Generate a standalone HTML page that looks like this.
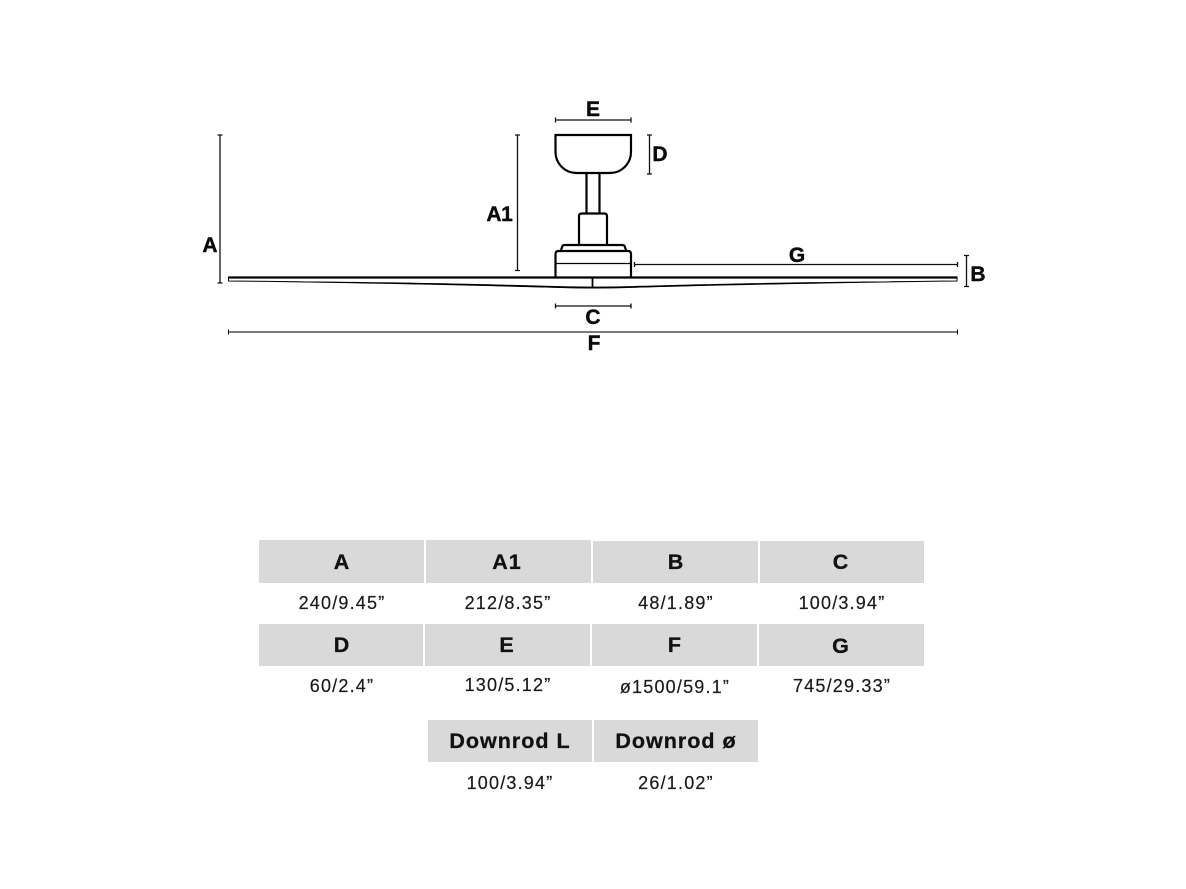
<!DOCTYPE html>
<html>
<head>
<meta charset="utf-8">
<style>
html,body{margin:0;padding:0;background:#fff;}
body{width:1186px;height:889px;overflow:hidden;position:relative;}
svg{position:absolute;left:0;top:0;}
.h{font:bold 21.500px "Liberation Sans",sans-serif;fill:#111;stroke:#111;stroke-width:.3px;text-anchor:middle;letter-spacing:1px;}
.v{font:18px "Liberation Sans",sans-serif;fill:#1a1a1a;stroke:#1a1a1a;stroke-width:.2px;text-anchor:middle;letter-spacing:1.200px;}
.l{font:bold 21px "Liberation Sans",sans-serif;fill:#0a0a0a;stroke:#0a0a0a;stroke-width:.4px;text-anchor:middle;}
</style>
</head>
<body>
<svg width="1186" height="889" viewBox="0 0 1186 889">
<g fill="none" stroke="#000" stroke-width="2.200">
<path d="M555.500 135H631V152A21 21 0 0 1 610 173H576.500A21 21 0 0 1 555.500 152Z"/>
<path d="M586.500 173V213M599.500 173V213"/>
<path d="M579 244V216Q579 213.500 582 213.500H604Q607 213.500 607 216V244"/>
<path d="M561 250L562.500 246Q563 245 565 245H622Q624 245 624.500 246L626 250"/>
<path d="M555.500 277V254Q555.500 251 558.500 251H628Q631 251 631 254V277"/>
</g>
<path d="M555.500 263.500H631" stroke="#000" stroke-width="1.200"/>
<path d="M228.500 277.500H957V281C800 282.500 690 286 593 288C496 286 386 282.500 228.500 281Z" fill="#fff" stroke="#000" stroke-width="1"/>
<path d="M228.500 281C386 282.500 480 285.500 545 287.500Q593 289.500 641 287.500C706 285.500 800 282.500 957 281C800 281.500 706 284 641 285.800Q593 287.500 545 285.800C480 284 386 281.500 228.500 281Z" fill="#000"/>
<path d="M228 277.500H957.500" stroke="#000" stroke-width="2.200"/>
<path d="M592.500 277V288" stroke="#000" stroke-width="1.800"/>
<g fill="none" stroke="#111" stroke-width="1.300">
<path d="M555.500 120H631M555.500 117.500V122.500M631 117.500V122.500"/>
<path d="M649.500 135V174M647 135H652M647 174H652"/>
<path d="M517.500 135V270.500M515 135H520M515 270.500H520"/>
<path d="M220 135V283M217.500 135H222.500M217.500 283H222.500"/>
<path d="M634.500 264.500H957.500M634.500 262V267M957.500 262V267"/>
<path d="M966.500 255.500V286.500M964 255.500H969M964 286.500H969"/>
<path d="M555.500 306H631M555.500 303.500V308.500M631 303.500V308.500"/>
</g>
<path d="M229 332H957" stroke="#666" stroke-width="1.800"/>
<path d="M228.500 329.500V334.500M957.500 329.500V334.500" stroke="#111" stroke-width="1"/>
<text class="l" x="593" y="116">E</text>
<text class="l" x="660" y="161">D</text>
<text class="l" x="494" y="221">A</text>
<text class="l" x="507" y="221">1</text>
<text class="l" x="210" y="252">A</text>
<text class="l" x="797" y="262">G</text>
<text class="l" x="978" y="281">B</text>
<text class="l" x="593" y="324">C</text>
<text class="l" x="594" y="350">F</text>
<g fill="#d9d9d9">
<rect x="259" y="540" width="165" height="43"/>
<rect x="426" y="540" width="165" height="43"/>
<rect x="593" y="541" width="165" height="42"/>
<rect x="760" y="541" width="164" height="42"/>
<rect x="259" y="624" width="164" height="42"/>
<rect x="425" y="624" width="165" height="42"/>
<rect x="592" y="624" width="165" height="42"/>
<rect x="759" y="624" width="165" height="42"/>
<rect x="428" y="720" width="164" height="42"/>
<rect x="594" y="720" width="164" height="42"/>
</g>
<text class="h" x="342" y="569">A</text>
<text class="h" x="507" y="569">A1</text>
<text class="h" x="676" y="569">B</text>
<text class="h" x="841" y="569">C</text>
<text class="v" x="342" y="609">240/9.45”</text>
<text class="v" x="508" y="609">212/8.35”</text>
<text class="v" x="676" y="609">48/1.89”</text>
<text class="v" x="842" y="609">100/3.94”</text>
<text class="h" x="342" y="652">D</text>
<text class="h" x="507" y="652">E</text>
<text class="h" x="675" y="652">F</text>
<text class="h" x="841" y="653">G</text>
<text class="v" x="342" y="692">60/2.4”</text>
<text class="v" x="508" y="691">130/5.12”</text>
<text class="v" x="675" y="693">ø1500/59.1”</text>
<text class="v" x="842" y="692">745/29.33”</text>
<text class="h" x="510" y="748">Downrod L</text>
<text class="h" x="676" y="748">Downrod ø</text>
<text class="v" x="510" y="789">100/3.94”</text>
<text class="v" x="676" y="789">26/1.02”</text>
</svg>
</body>
</html>
